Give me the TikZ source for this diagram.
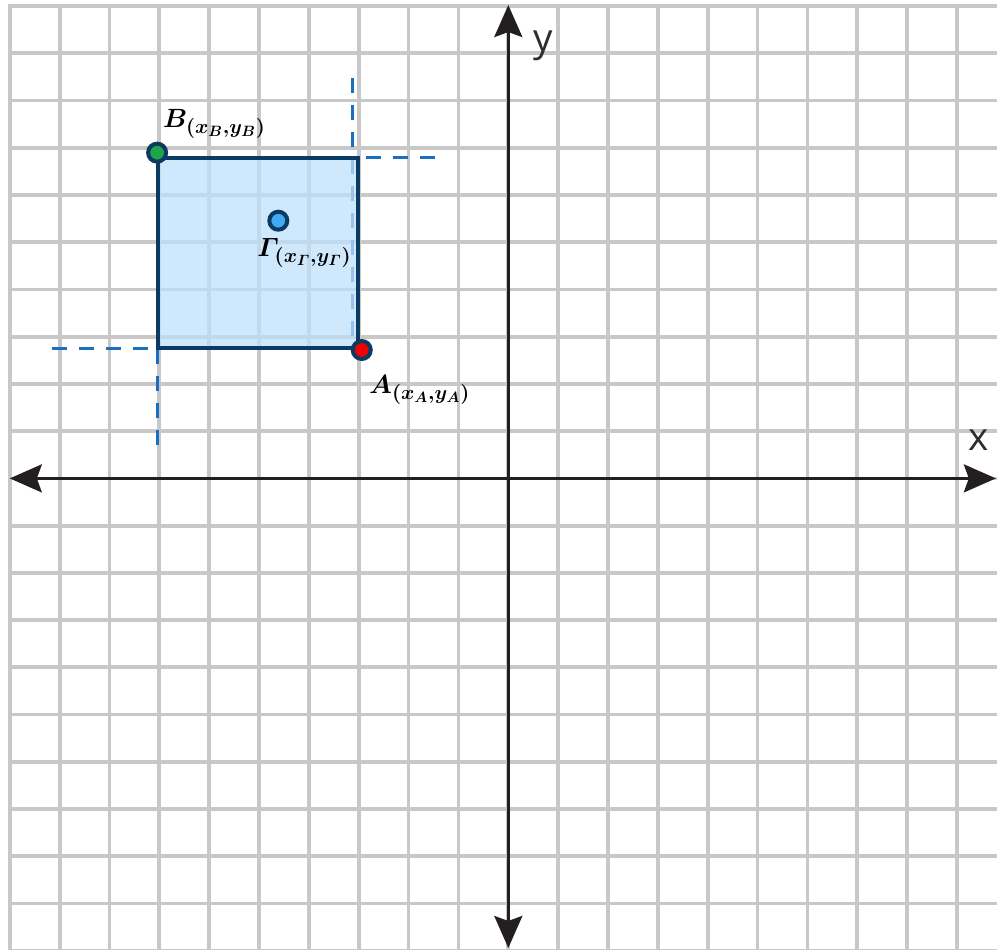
\RequirePackage{fix-cm}
\documentclass[tikz,border=0pt]{standalone}
\usepackage{amsmath}
\usepackage{fontspec}
\newfontfamily\axisfont{Open Sans}
\usepackage{tikz}
\usetikzlibrary{arrows.meta}
\DeclareMathSizes{15}{15}{11.5}{8.5}
\definecolor{cs-grid}{HTML}{C8C8C8}
\definecolor{cs-axis}{HTML}{231F20}
\definecolor{cs-text}{HTML}{2E2E2E}
\definecolor{cs-edge}{HTML}{0B3A63}
\definecolor{cs-fill}{HTML}{BFE0FA}
\definecolor{cs-dash}{HTML}{1C6EBF}
\definecolor{cs-green}{HTML}{1FA64A}
\definecolor{cs-blue}{HTML}{3FA9F5}
\definecolor{cs-red}{HTML}{F00000}

\begin{document}
\begin{tikzpicture}[
    x=0.997cm, y=0.9448cm,
    >={Stealth[length=0.64cm, width=0.56cm, inset=0.1cm]}
  ]

  \tikzset{
    gridline/.style={draw=cs-grid, line width=0.075cm, line cap=rect},
    axis/.style={draw=cs-axis, line width=0.06cm, <->},
    guide/.style={draw=cs-dash, line width=0.06cm, dash pattern=on 0.3cm off 0.24cm},
    box/.style={draw=cs-edge, line width=0.08cm, fill=cs-fill, fill opacity=0.75},
    pt/.style={circle, draw=cs-edge, line width=0.08cm, minimum size=0.36cm, inner sep=0pt},
    ptlabel/.style={inner sep=0pt, text=black, font=\boldmath\fontsize{15}{17}\selectfont},
    axlabel/.style={inner sep=0pt, text=cs-text, font=\axisfont\fontsize{22}{26}\selectfont}
  }

  \useasboundingbox (-10.197,-9.962) rectangle (9.803,10.127);

  % Grid paper
  \begin{scope}
    \clip (-10.197,-9.962) rectangle (9.803,10.127);
    \draw[gridline, step=1] (-10,-10) grid (10,10);
  \end{scope}

  % Corner coordinates of the rectangle and guide ends
  \coordinate (cB) at (-7.03,6.78);
  \coordinate (cA) at (-3.015,2.76);
  \coordinate (gTop) at (-3.13,8.475);
  \coordinate (gTopEnd) at (-3.13,2.76);
  \coordinate (gRight) at (-2.86,6.79);
  \coordinate (gRightEnd) at (-1.43,6.79);
  \coordinate (gLeft) at (-9.15,2.74);
  \coordinate (gLeftEnd) at (-7.03,2.74);
  \coordinate (gDown) at (-7.03,0.71);

  % Dashed guides
  \draw[guide] (gTop) -- (gTopEnd);
  \draw[guide] (gRight) -- (gRightEnd);
  \draw[guide] (gLeft) -- (gLeftEnd);
  \draw[guide] (gLeftEnd) -- (gDown);

  % Rectangle
  \draw[box] (cB) rectangle (cA);

  % Axes
  \coordinate (xL) at (-10.0,0);
  \coordinate (xR) at (9.78,0);
  \coordinate (yT) at (0,10.02);
  \coordinate (yB) at (0,-9.94);
  \draw[axis] (xL) -- (xR);
  \draw[axis] (yB) -- (yT);
  \node[axlabel, anchor=base] (xlab) at (9.44,0.601) {x};
  \node[axlabel, anchor=base] (ylab) at (0.696,9.026) {y};

  % Points
  \node[pt, fill=cs-green] (B) at (-7.045,6.895) {};
  \node[pt, fill=cs-blue] (G) at (-4.614,5.455) {};
  \node[pt, fill=cs-red] (A) at (-2.94,2.718) {};

  % Point labels
  \node[ptlabel, anchor=base west] (labB) at (-6.93,7.43) {$B_{(x_B,y_B)}$};
  \node[ptlabel, anchor=base west] (labG) at (-5.04,4.69) {$\varGamma_{(x_{\varGamma},y_{\varGamma})}$};
  \node[ptlabel, anchor=base west] (labA) at (-2.80,1.80) {$A_{(x_A,y_A)}$};

\end{tikzpicture}
\end{document}
